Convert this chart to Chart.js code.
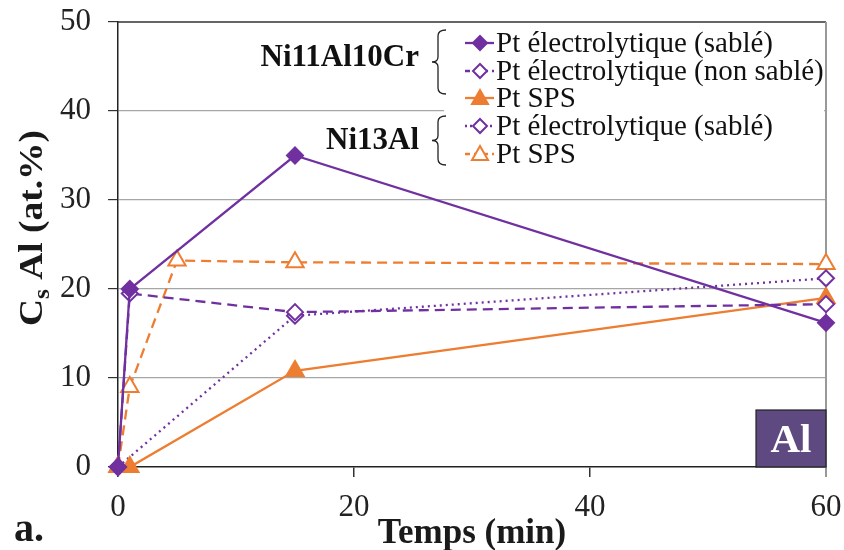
<!DOCTYPE html>
<html>
<head>
<meta charset="utf-8">
<script src="https://cdn.jsdelivr.net/npm/chart.js@4/dist/chart.umd.min.js"></script>
<style>
  body { margin: 0; background: #fff; }
  #wrap { width: 844px; height: 550px; }
</style>
</head>
<body>
<div id="wrap"><canvas id="chart" width="844" height="550"></canvas></div>
<script>
// data
const ni11Sable = [[0, 0], [1, 20], [15, 35], [60, 16.2]];
const ni11NonSable = [[0, 0], [1, 19.5], [15, 17.4], [60, 18.3]];
const ni11Sps = [[0, 0], [1, 0], [15, 10.8], [60, 19]];
const ni13Sable = [[0, 0], [15, 17], [60, 21.2]];
const ni13Sps = [[0, 0], [1, 9], [5, 23.2], [15, 23], [60, 22.8]];

const legendLabels = ['Pt électrolytique (sablé)', 'Pt électrolytique (non sablé)', 'Pt SPS',
                      'Pt électrolytique (sablé)', 'Pt SPS'];
const groupLabels = ['Ni11Al10Cr', 'Ni13Al'];

const purple = '#7030a0';
const orange = '#ed7d31';
const serif = '"Liberation Serif", "DejaVu Serif", serif';

function pts(arr) {
    return arr.map(p => ({ x: p[0], y: p[1] }));
}

const styles = [
    { color: purple, dash: [], shape: 'diamond', filled: true },
    { color: purple, dash: [10, 6], shape: 'diamond', filled: false },
    { color: orange, dash: [], shape: 'triangle', filled: true },
    { color: purple, dash: [2, 4], shape: 'diamond', filled: false },
    { color: orange, dash: [10, 6], shape: 'triangle', filled: false }
];
const series = [ni11Sable, ni11NonSable, ni11Sps, ni13Sable, ni13Sps];

const datasets = series.map((s, i) => ({
    label: legendLabels[i],
    data: pts(s),
    clip: false,
    borderColor: styles[i].color,
    backgroundColor: styles[i].filled ? styles[i].color : '#fff',
    borderWidth: 2.3,
    borderDash: styles[i].dash,
    pointStyle: styles[i].shape === 'diamond' ? 'rectRot' : 'triangle',
    pointRadius: styles[i].shape === 'diamond' ? 8 : 10,
    pointBorderWidth: 2,
    pointBackgroundColor: styles[i].filled ? styles[i].color : '#fff',
    pointBorderColor: styles[i].color,
    tension: 0
}));

function drawMarker(ctx, shape, filled, color, x, y) {
    ctx.save();
    ctx.setLineDash([]);
    ctx.lineWidth = 2;
    ctx.strokeStyle = color;
    ctx.fillStyle = filled ? color : '#fff';
    ctx.beginPath();
    if (shape === 'diamond') {
        ctx.moveTo(x, y - 7); ctx.lineTo(x + 7, y); ctx.lineTo(x, y + 7); ctx.lineTo(x - 7, y);
    } else {
        ctx.moveTo(x, y - 8); ctx.lineTo(x + 8, y + 6); ctx.lineTo(x - 8, y + 6);
    }
    ctx.closePath();
    ctx.fill();
    ctx.stroke();
    ctx.restore();
}

function drawBrace(ctx, x, y1, y2) {
    const ym = (y1 + y2) / 2;
    ctx.beginPath();
    ctx.moveTo(x + 8, y1);
    ctx.quadraticCurveTo(x, y1, x, y1 + 6);
    ctx.lineTo(x, ym - 5);
    ctx.quadraticCurveTo(x, ym, x - 6, ym);
    ctx.quadraticCurveTo(x, ym, x, ym + 5);
    ctx.lineTo(x, y2 - 6);
    ctx.quadraticCurveTo(x, y2, x + 8, y2);
    ctx.stroke();
}

const decor = {
    id: 'decor',
    beforeDatasetsDraw(chart) {
        const ctx = chart.ctx;
        const a = chart.chartArea;
        ctx.save();
        // frame: dark top, grey right
        ctx.strokeStyle = '#333';
        ctx.lineWidth = 1.5;
        ctx.beginPath();
        ctx.moveTo(a.left, a.top); ctx.lineTo(a.right, a.top);
        ctx.stroke();
        ctx.strokeStyle = '#999';
        ctx.lineWidth = 2;
        ctx.beginPath();
        ctx.moveTo(a.right, a.top); ctx.lineTo(a.right, a.bottom + 10);
        ctx.stroke();
        ctx.restore();
    },
    afterDraw(chart) {
        const ctx = chart.ctx;
        const a = chart.chartArea;
        ctx.save();

        // legend box
        ctx.fillStyle = '#fff';
        ctx.fillRect(444, a.top + 1, a.right - 446, 146);
        ctx.textBaseline = 'middle';
        ctx.textAlign = 'left';
        ctx.font = '29px ' + serif;
        const rows = [43, 71, 98, 126, 154];
        rows.forEach((ry, i) => {
            const st = styles[i];
            ctx.strokeStyle = st.color;
            ctx.lineWidth = 2.3;
            ctx.setLineDash(st.dash.length ? (st.dash[0] === 2 ? [2, 3] : [5, 4]) : []);
            ctx.beginPath();
            ctx.moveTo(465, ry); ctx.lineTo(494, ry);
            ctx.stroke();
            drawMarker(ctx, st.shape, st.filled, st.color, 480, ry);
            ctx.fillStyle = '#111';
            ctx.fillText(legendLabels[i], 496, ry + 1);
        });
        ctx.setLineDash([]);

        // group braces and labels
        ctx.strokeStyle = '#222';
        ctx.lineWidth = 1.3;
        drawBrace(ctx, 438, 30, 94);
        drawBrace(ctx, 438, 116, 165);
        ctx.fillStyle = '#111';
        ctx.font = 'bold 31px ' + serif;
        ctx.textAlign = 'right';
        ctx.fillText(groupLabels[0], 419, 58);
        ctx.fillText(groupLabels[1], 419, 141);

        // Al box
        ctx.fillStyle = '#5e4a80';
        ctx.fillRect(756, 410, a.right - 756, a.bottom - 410);
        ctx.strokeStyle = '#222';
        ctx.lineWidth = 1.2;
        ctx.strokeRect(756, 410, a.right - 756, a.bottom - 410);
        ctx.fillStyle = '#fff';
        ctx.font = 'bold 41px ' + serif;
        ctx.textAlign = 'center';
        ctx.fillText('Al', 791, 441);

        // axis titles
        ctx.fillStyle = '#1a1a1a';
        ctx.font = 'bold 35px ' + serif;
        ctx.textAlign = 'center';
        ctx.textBaseline = 'alphabetic';
        ctx.fillText('Temps (min)', 472, 543);
        ctx.textAlign = 'left';
        ctx.font = 'bold 40px ' + serif;
        ctx.fillText('a.', 14, 541);

        ctx.translate(42, 228);
        ctx.rotate(-Math.PI / 2);
        ctx.scale(1.1, 1);
        const big = 'bold 34px ' + serif;
        const small = 'bold 23px ' + serif;
        ctx.font = big;
        const wC = ctx.measureText('C').width;
        ctx.font = small;
        const wS = ctx.measureText('s').width;
        ctx.font = big;
        const rest = ' Al (at.%)';
        const wR = ctx.measureText(rest).width;
        let x0 = -(wC + wS + wR) / 2;
        ctx.fillText('C', x0, 0);
        ctx.font = small;
        ctx.fillText('s', x0 + wC, 7);
        ctx.font = big;
        ctx.fillText(rest, x0 + wC + wS, 0);
        ctx.restore();
    }
};

new Chart(document.getElementById('chart'), {
    type: 'line',
    data: { datasets: datasets },
    options: {
        responsive: false,
        animation: false,
        layout: { padding: { left: 0, top: 22, right: 18, bottom: 0 } },
        plugins: {
            legend: { display: false },
            tooltip: { enabled: false }
        },
        scales: {
            x: {
                type: 'linear',
                min: 0,
                max: 60,
                afterFit: scale => {
                    scale.height = 83;
                    scale.paddingLeft = 0;
                    scale.paddingRight = 0;
                },
                ticks: {
                    stepSize: 20,
                    padding: 12,
                    color: '#222',
                    font: { family: serif, size: 31 }
                },
                grid: { drawOnChartArea: false, tickLength: 10, tickColor: '#333', lineWidth: 1.5 },
                border: { color: '#222', width: 1.5 }
            },
            y: {
                min: 0,
                max: 50,
                afterFit: scale => {
                    scale.width = 118;
                    scale.paddingTop = 0;
                    scale.paddingBottom = 0;
                },
                ticks: {
                    stepSize: 10,
                    padding: 17,
                    color: '#222',
                    font: { family: serif, size: 31 }
                },
                grid: {
                    color: ctx => (ctx.tick && (ctx.tick.value === 0 || ctx.tick.value === 50)) ? 'rgba(0,0,0,0)' : '#a6a6a6',
                    borderDash: [6, 4],
                    lineWidth: 1.2,
                    tickLength: 10,
                    tickColor: '#333',
                    tickBorderDash: []
                },
                border: { color: '#222', width: 1.5 }
            }
        }
    },
    plugins: [decor]
});
</script>
</body>
</html>
